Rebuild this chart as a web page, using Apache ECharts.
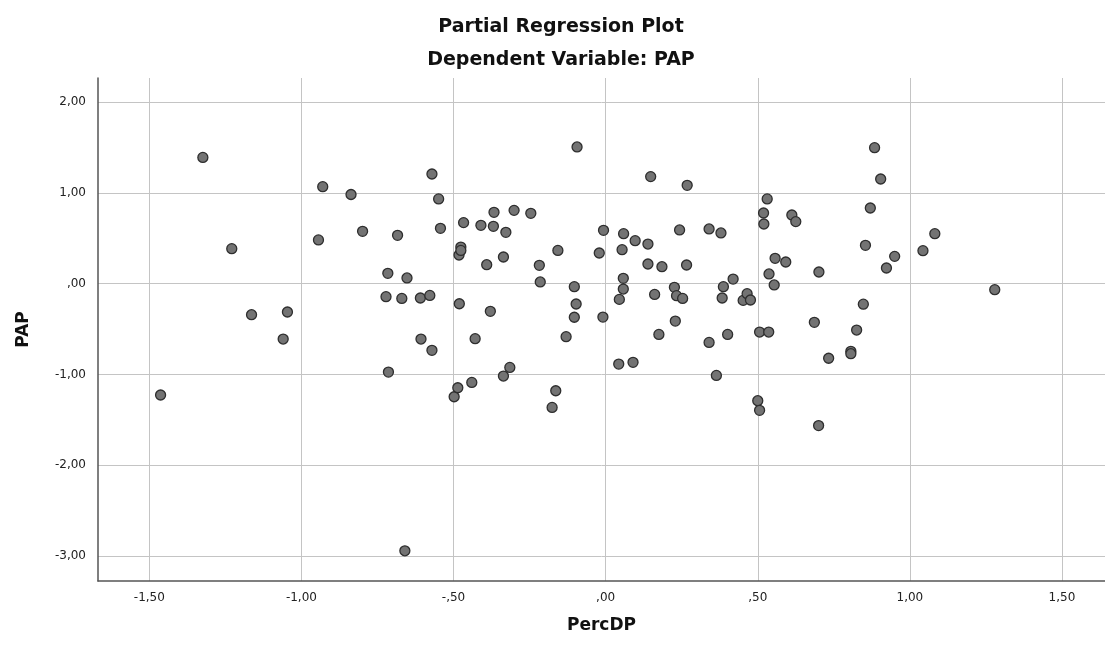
<!DOCTYPE html>
<html>
<head>
<meta charset="utf-8">
<script src="https://cdn.jsdelivr.net/npm/echarts@6/dist/echarts.min.js"></script>
<style>
html,body{margin:0;padding:0;background:#fff;}
#chart{width:1105px;height:649px;}
</style>
</head>
<body>
<div id="chart"></div>
<script>
// PercDP (x) values of each case
const percDP = [
 -1.463,-1.324,-1.229,-1.164,-1.046,-1.060,-0.944,-0.930,-0.837,-0.799,
 -0.722,-0.716,-0.714,-0.684,-0.670,-0.660,-0.653,-0.609,-0.607,-0.578,
 -0.571,-0.571,-0.549,-0.543,-0.498,-0.486,-0.482,-0.481,-0.476,-0.476,
 -0.467,-0.440,-0.429,-0.410,-0.391,-0.379,-0.369,-0.367,-0.336,-0.336,
 -0.328,-0.315,-0.301,-0.246,-0.218,-0.215,-0.176,-0.164,-0.157,-0.130,
 -0.103,-0.103,-0.097,-0.094,-0.021,-0.009,-0.007,0.043,0.045,0.054,
 0.058,0.058,0.059,0.090,0.097,0.139,0.139,0.148,0.161,0.175,
 0.185,0.226,0.229,0.233,0.243,0.253,0.266,0.268,0.340,0.340,
 0.364,0.379,0.383,0.387,0.401,0.419,0.452,0.465,0.476,0.500,
 0.506,0.506,0.519,0.520,0.531,0.536,0.537,0.554,0.557,0.592,
 0.612,0.625,0.686,0.700,0.701,0.733,0.806,0.806,0.825,0.847,
 0.854,0.870,0.884,0.904,0.923,0.950,1.043,1.082,1.279
];
// PAP (y) values of each case
const pap = [
 -1.227,1.392,0.386,-0.342,-0.312,-0.610,0.482,1.069,0.983,0.577,
 -0.143,0.114,-0.974,0.533,-0.162,-2.944,0.063,-0.158,-0.610,-0.129,
 1.209,-0.735,0.934,0.610,-1.246,-1.147,0.316,-0.221,0.404,0.367,
 0.673,-1.088,-0.606,0.643,0.209,-0.305,0.632,0.786,0.294,-1.018,
 0.566,-0.923,0.808,0.775,0.202,0.019,-1.364,-1.180,0.367,-0.584,
 -0.033,-0.370,-0.224,1.507,0.338,-0.368,0.588,-0.886,-0.173,0.375,
 0.059,-0.059,0.551,-0.867,0.474,0.437,0.217,1.180,-0.118,-0.559,
 0.187,-0.040,-0.412,-0.132,0.592,-0.162,0.206,1.084,0.603,-0.647,
 -1.011,0.559,-0.158,-0.033,-0.559,0.051,-0.184,-0.110,-0.180,-1.290,
 -1.396,-0.533,0.779,0.658,0.934,-0.533,0.107,-0.014,0.279,0.239,
 0.757,0.684,-0.426,-1.564,0.129,-0.822,-0.746,-0.772,-0.511,-0.226,
 0.423,0.834,1.499,1.154,0.173,0.301,0.364,0.551,-0.066
];
// tick values
const xTicks = [-1.5,-1.0,-0.5,0,0.5,1.0,1.5];
const yTicks = [-3,-2,-1,0,1,2];

function fmt(v){
  let s = Math.abs(v).toFixed(2).replace('.', ',');
  if (s.startsWith('0,')) s = s.substring(1);
  return (v < 0 ? '-' : '') + s;
}

const FONT = '"DejaVu Sans",sans-serif';
const chart = echarts.init(document.getElementById('chart'));
chart.setOption({
  animation:false,
  backgroundColor:'#ffffff',
  title:[
    {text:'Partial Regression Plot', left:556, top:13, textAlign:'center',
     textStyle:{fontFamily:FONT, fontWeight:'bold', fontSize:19, color:'#111'}},
    {text:'Dependent Variable: PAP', left:556, top:46, textAlign:'center',
     textStyle:{fontFamily:FONT, fontWeight:'bold', fontSize:19, color:'#111'}}
  ],
  grid:{left:98, right:0, top:78, bottom:68, containLabel:false},
  xAxis:{
    type:'value', min:-1.6687, max:1.6414,
    name:'PercDP', nameLocation:'middle', nameGap:36,
    nameTextStyle:{fontFamily:FONT, fontWeight:'bold', fontSize:17, color:'#111'},
    axisLine:{show:true, onZero:false, lineStyle:{color:'#555', width:1.5}},
    axisTick:{show:false, customValues:xTicks},
    axisLabel:{customValues:xTicks, formatter:fmt, margin:11, showMinLabel:true, showMaxLabel:true,
      fontFamily:FONT, fontSize:12, color:'#222'},
    splitLine:{show:true, lineStyle:{color:'#c4c4c4', width:1}}
  },
  yAxis:{
    type:'value', min:-3.277, max:2.267,
    name:'PAP', nameLocation:'middle', nameGap:66,
    nameTextStyle:{fontFamily:FONT, fontWeight:'bold', fontSize:17, color:'#111'},
    axisLine:{show:true, onZero:false, lineStyle:{color:'#555', width:1.5}},
    axisTick:{show:false, customValues:yTicks},
    axisLabel:{customValues:yTicks, formatter:fmt, margin:12,
      fontFamily:FONT, fontSize:12, color:'#222'},
    splitLine:{show:true, lineStyle:{color:'#c4c4c4', width:1}}
  },
  series:[{
    type:'scatter',
    data: percDP.map((x,i)=>[x, pap[i]]),
    symbol:'circle', symbolSize:10,
    itemStyle:{color:'#737373', borderColor:'#2e2e2e', borderWidth:1.3, opacity:1},
    silent:true
  }]
});
</script>
</body>
</html>
